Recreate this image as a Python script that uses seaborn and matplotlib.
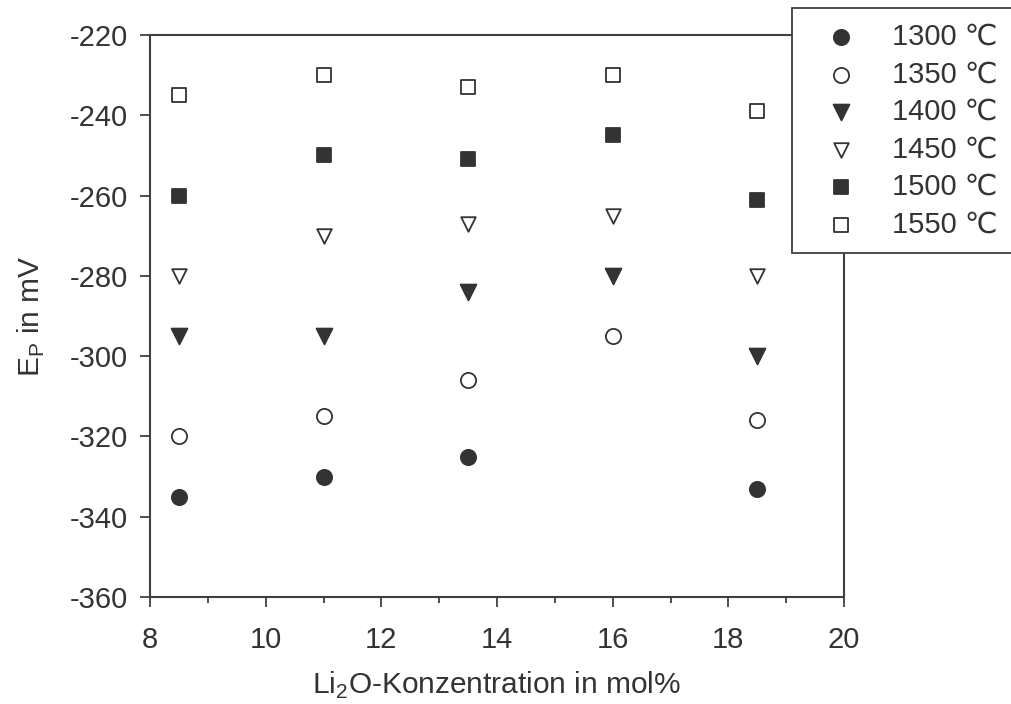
import numpy as np
import pandas as pd
import matplotlib
matplotlib.use("Agg")
import matplotlib.pyplot as plt
import seaborn as sns

# Data
conc = [8.5, 11, 13.5, 16, 18.5]
temps = ["1300 ℃", "1350 ℃", "1400 ℃", "1450 ℃", "1500 ℃", "1550 ℃"]
ep_1300 = [-335, -330, -325, np.nan, -333]
ep_1350 = [-320, -315, -306, -295, -316]
ep_1400 = [-295, -295, -284, -280, -300]
ep_1450 = [-280, -270, -267, -265, -280]
ep_1500 = [-260, -250, -251, -245, -261]
ep_1550 = [-235, -230, -233, -230, -239]
series = [ep_1300, ep_1350, ep_1400, ep_1450, ep_1500, ep_1550]

xticks = [8, 10, 12, 14, 16, 18, 20]
yticks = [-360, -340, -320, -300, -280, -260, -240, -220]

sns.set_theme(style="white")
plt.rcParams['font.family'] = ['Liberation Sans', 'DejaVu Sans']
plt.rcParams['mathtext.fontset'] = 'custom'
plt.rcParams['mathtext.rm'] = 'Liberation Sans'
plt.rcParams['axes.unicode_minus'] = False

dark = "#333333"
fig = plt.figure(figsize=(10.12, 7.04), dpi=100)
ax = fig.add_axes([150/1012, 1-597/704, (844-150)/1012, (597-35)/704])

styles = [
    dict(marker="o", facecolor=dark, s=120),
    dict(marker="o", facecolor="white", s=120),
    dict(marker="v", facecolor=dark, s=130),
    dict(marker="v", facecolor="white", s=110),
    dict(marker="s", facecolor=dark, s=95),
    dict(marker="s", facecolor="white", s=95),
]

for t, vals, st in zip(temps, series, styles):
    df = pd.DataFrame({"x": conc, "y": vals}).dropna()
    sns.scatterplot(data=df, x="x", y="y", ax=ax, marker=st["marker"],
                    s=st["s"], facecolor=st["facecolor"], edgecolor=dark,
                    linewidth=1.3, label=t, zorder=3)

ax.set_xlim(8, 20)
ax.set_ylim(-360, -220)
ax.set_xticks(xticks)
ax.set_xticks(np.arange(9, 20, 2), minor=True)
ax.set_yticks(yticks)
ax.tick_params(axis="both", which="major", direction="out", length=7, width=1.3,
               color="#404040", labelsize=21, labelcolor=dark,
               bottom=True, left=True)
ax.tick_params(axis="x", which="major", pad=14)
ax.tick_params(axis="y", which="major", pad=9)
ax.tick_params(axis="x", which="minor", direction="out", length=4, width=1.3,
               color="#404040", bottom=True)
for sp in ax.spines.values():
    sp.set_color("#404040")
    sp.set_linewidth(1.5)

ax.set_xlabel(r"Li$_\mathregular{2}$O-Konzentration in mol%", fontsize=21.5,
              color=dark, labelpad=11)
ax.set_ylabel(r"E$_\mathregular{P}$ in mV", fontsize=21.5, color=dark, labelpad=16)

leg = ax.legend(loc="upper left", bbox_to_anchor=(792/1012, 1-8/704),
                bbox_transform=fig.transFigure, frameon=True, fancybox=False,
                fontsize=21, labelspacing=0.33, handletextpad=0.6,
                borderpad=0.5, borderaxespad=0, handlelength=2.34,
                markerscale=1.0)
leg.get_frame().set_edgecolor("#404040")
leg.get_frame().set_linewidth(1.3)
leg.get_frame().set_alpha(1)
for txt in leg.get_texts():
    txt.set_color(dark)

fig.savefig("out.png", dpi=100)
